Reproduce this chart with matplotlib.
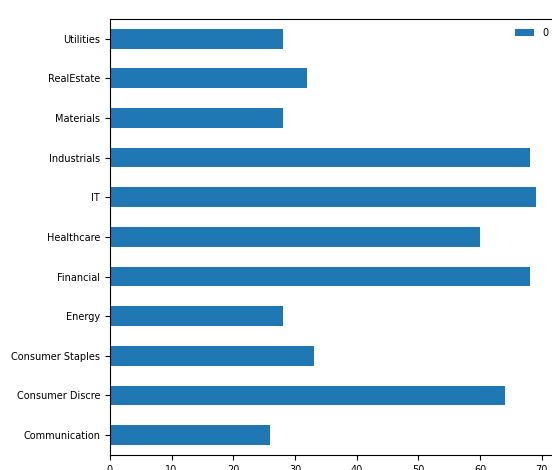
import matplotlib
matplotlib.use('Agg')
import matplotlib.pyplot as plt
import pandas as pd

sectors = ['Communication', 'Consumer Discre', 'Consumer Staples', 'Energy', 'Financial',
           'Healthcare', 'IT', 'Industrials', 'Materials', 'RealEstate', 'Utilities']
counts = [26, 64, 33, 28, 68, 60, 69, 68, 28, 32, 28]

df = pd.DataFrame({0: counts}, index=sectors)

fig = plt.figure(figsize=(5.52, 4.70), dpi=100)
ax = fig.add_axes([0.199, 0.032, 0.81, 0.928])
df.plot.barh(ax=ax, color='#1f77b4')

ax.tick_params(labelsize=7)
ax.set_xticks(range(0, 80, 10))
ax.set_xlim(0, 72.45)
ax.legend(loc='upper right', fontsize=7, frameon=False)

fig.savefig('out.png', dpi=100)
